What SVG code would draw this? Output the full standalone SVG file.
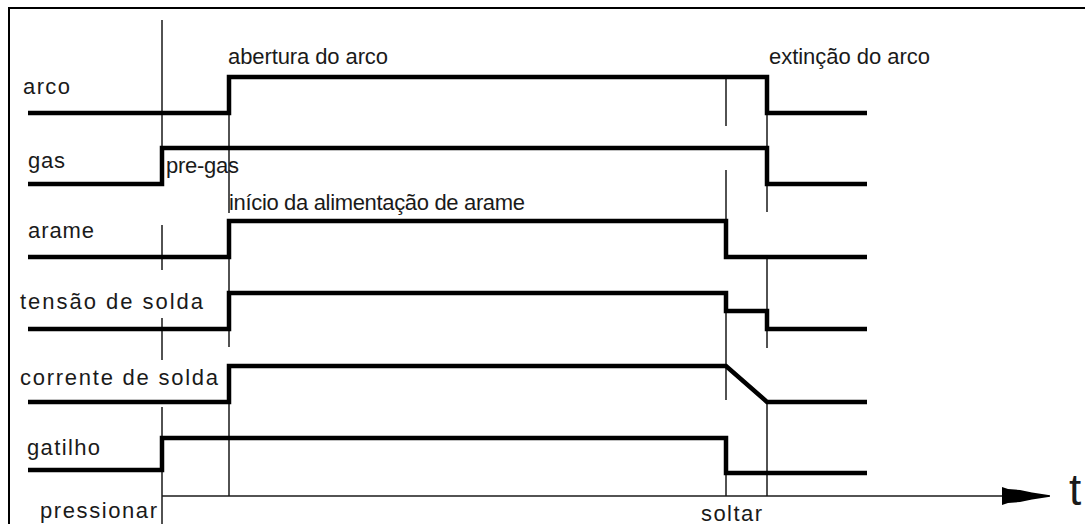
<svg xmlns="http://www.w3.org/2000/svg" width="1085" height="524" viewBox="0 0 1085 524">
<defs>
<style>
.sig{fill:none;stroke:#000;stroke-width:4.5;stroke-linejoin:miter;stroke-linecap:butt}
.thin{fill:none;stroke:#1a1a1a;stroke-width:1.5}
.lbl{font-family:"Liberation Sans",Arial,sans-serif;font-size:22px;fill:#1a1a1a}
</style>
</defs>
<rect x="0" y="0" width="1085" height="524" fill="#fff"/>
<rect x="9" y="8" width="1100" height="540" fill="#fff" stroke="#000" stroke-width="2"/>

<g id="connectors">
<path class="thin" d="M162,20V148 M162,225V270 M162,318V360 M162,407V438 M162,470V524"/>
<path class="thin" d="M229,113V213 M229,257V293 M229,329V347 M229,402V496"/>
<path class="thin" d="M726,77V126 M726,170V221 M726,311V400 M726,473V496"/>
<path class="thin" d="M767,113V149 M767,184V212 M767,257V311 M767,329V348 M767,402V496"/>
<path class="thin" d="M162,496H1004"/>
<polygon points="1002,487 1008,489 1020,490 1032,492.5 1050,495.3 1050,496.7 1032,499.5 1020,502 1008,503 1002,505" fill="#000"/>
</g>

<g id="arco">
<path class="sig" d="M28,113H229V77H767V113H867"/>
<text class="lbl" x="23" y="94" textLength="47">arco</text>
</g>
<g id="gas">
<path class="sig" d="M28,184H162V148H767V184H867"/>
<text class="lbl" x="28" y="168" textLength="37">gas</text>
</g>
<g id="arame">
<path class="sig" d="M28,257H229V221H726V257H867"/>
<text class="lbl" x="28" y="238" textLength="66">arame</text>
</g>
<g id="tensao">
<path class="sig" d="M28,329H229V293H726V311H767V329H867"/>
<text class="lbl" x="20" y="309" textLength="183">tensão de solda</text>
</g>
<g id="corrente">
<path class="sig" d="M28,402H229V366H726L767,402H867"/>
<text class="lbl" x="20" y="385" textLength="198">corrente de solda</text>
</g>
<g id="gatilho">
<path class="sig" d="M28,470H162V438H726V473H867"/>
<text class="lbl" x="27" y="455" textLength="73">gatilho</text>
</g>

<g id="annotations">
<text class="lbl" x="228" y="64" textLength="160">abertura do arco</text>
<text class="lbl" x="769" y="64" textLength="161">extinção do arco</text>
<text class="lbl" x="166" y="173" textLength="73">pre-gas</text>
<text class="lbl" x="229" y="210" textLength="296">início da alimentação de arame</text>
<text class="lbl" x="40" y="518" textLength="117">pressionar</text>
<text class="lbl" x="701" y="521" textLength="61">soltar</text>
<text class="lbl" x="1069" y="505" style="font-size:44px">t</text>
</g>
</svg>
